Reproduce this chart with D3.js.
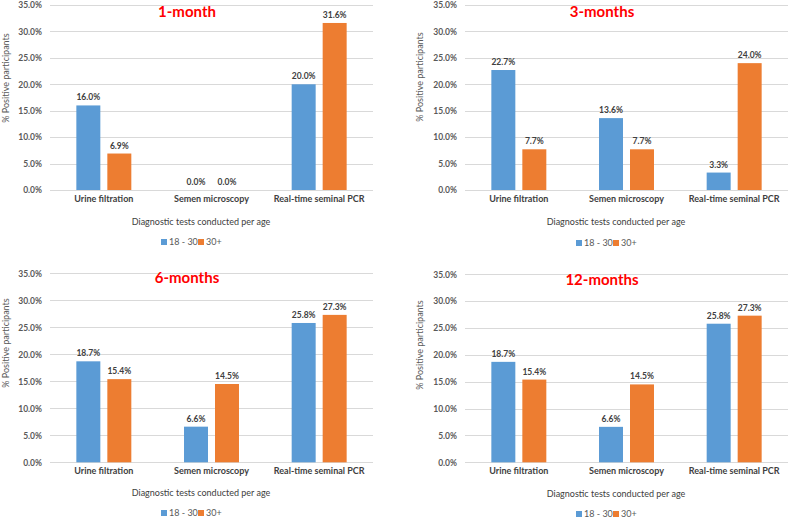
<!DOCTYPE html>
<html>
<head>
<meta charset="utf-8">
<script src="https://cdn.jsdelivr.net/npm/d3@7"></script>
<style>
  html, body { margin: 0; padding: 0; background: #fff; }
  svg { display: block; font-family: Lato, "Open Sans", sans-serif; }
</style>
</head>
<body>
<svg id="chart" width="790" height="519"></svg>
<script>
// ---- data ----
const categories = ["Urine filtration", "Semen microscopy", "Real-time seminal PCR"];
const seriesNames = ["18 - 30", "30+"];
const panelTitles = ["1-month", "3-months", "6-months", "12-months"];
const age18to30 = [
  [16.0, 0.0, 20.0],
  [22.7, 13.6, 3.3],
  [18.7, 6.6, 25.8],
  [18.7, 6.6, 25.8]
];
const age30plus = [
  [6.9, 0.0, 31.6],
  [7.7, 7.7, 24.0],
  [15.4, 14.5, 27.3],
  [15.4, 14.5, 27.3]
];
const yTicks = [0, 5, 10, 15, 20, 25, 30, 35];
const xAxisTitle = "Diagnostic tests conducted per age";
const yAxisTitle = "% Positive participants";

// ---- layout (positions only) ----
const layouts = [
  { left: 50,  right: 373, top: 5,   bottom: 190,   titleX: 187, titleY: 12,  catY: 202, xTitleX: 201, xTitleY: 222, legX: 190, legY: 242, yTitleX: 6,   yTitleY: 78 },
  { left: 465, right: 788, top: 5,   bottom: 190,   titleX: 602, titleY: 12,  catY: 202, xTitleX: 616, xTitleY: 222, legX: 605, legY: 243, yTitleX: 420, yTitleY: 77 },
  { left: 50,  right: 373, top: 273.3, bottom: 462.3, titleX: 187, titleY: 278, catY: 474, xTitleX: 201, xTitleY: 493, legX: 190, legY: 513, yTitleX: 6,   yTitleY: 343 },
  { left: 465, right: 788, top: 274.3, bottom: 462.3, titleX: 602, titleY: 280, catY: 474, xTitleX: 616, xTitleY: 494, legX: 605, legY: 514, yTitleX: 420, yTitleY: 345 }
];
const colors = ["#5B9BD5", "#ED7D31"];
const textColor = "#404040";
const tickColor = "#595959";

const svg = d3.select("#chart");

layouts.forEach((L, i) => {
  const g = svg.append("g");
  const y = d3.scaleLinear().domain([0, 35]).range([L.bottom, L.top]);
  const x0 = d3.scaleBand().domain(categories).range([L.left, L.right]).padding(0);
  const x1 = d3.scaleBand().domain(seriesNames).range([0, x0.bandwidth()])
    .paddingInner(0.226).paddingOuter(0.85);
  const color = d3.scaleOrdinal().domain(seriesNames).range(colors);

  // gridlines
  g.append("g").selectAll("line").data(yTicks).join("line")
    .attr("x1", L.left).attr("x2", L.right)
    .attr("y1", d => Math.round(y(d)) + 0.5).attr("y2", d => Math.round(y(d)) + 0.5)
    .attr("stroke", "#d9d9d9").attr("stroke-width", 1);

  // y axis labels via d3 axis
  const yAxis = d3.axisLeft(y).tickValues(yTicks).tickSize(0).tickPadding(0)
    .tickFormat(d => d.toFixed(1) + "%");
  const ya = g.append("g").attr("transform", `translate(${L.left - 8},0)`).call(yAxis);
  ya.select(".domain").remove();
  ya.selectAll("text").attr("font-family", "Lato, sans-serif").attr("font-size", 8.5)
    .attr("font-weight", "bold").attr("fill", tickColor);

  // bars
  const rows = categories.map((c, k) => ({ cat: c, vals: [age18to30[i][k], age30plus[i][k]] }));
  const groups = g.append("g").selectAll("g").data(rows).join("g")
    .attr("transform", d => `translate(${x0(d.cat)},0)`);
  groups.selectAll("rect").data(d => d.vals.map((v, s) => ({ s: seriesNames[s], v })))
    .join("rect")
    .attr("x", d => x1(d.s))
    .attr("width", x1.bandwidth())
    .attr("y", d => y(d.v))
    .attr("height", d => y(0) - y(d.v))
    .attr("fill", d => color(d.s));
  groups.selectAll("text").data(d => d.vals.map((v, s) => ({ s: seriesNames[s], v })))
    .join("text")
    .attr("x", d => x1(d.s) + x1.bandwidth() / 2)
    .attr("y", d => y(d.v) - 5)
    .attr("text-anchor", "middle")
    .attr("font-size", 8.5).attr("font-weight", "bold").attr("fill", textColor)
    .text(d => d.v.toFixed(1) + "%");

  // category labels via d3 axis
  const xAxis = d3.axisBottom(x0).tickSize(0).tickPadding(0);
  const xa = g.append("g").attr("transform", `translate(0,${L.catY - 6})`).call(xAxis);
  xa.select(".domain").remove();
  xa.selectAll("text").attr("font-family", "Lato, sans-serif").attr("font-size", 9)
    .attr("font-weight", "bold").attr("fill", textColor);

  // panel title
  g.append("text").attr("x", L.titleX).attr("y", L.titleY).attr("dy", "0.35em")
    .attr("text-anchor", "middle").attr("font-size", 15).attr("font-weight", "bold")
    .attr("fill", "#FF0000").text(panelTitles[i]);

  // x axis title
  g.append("text").attr("x", L.xTitleX).attr("y", L.xTitleY).attr("dy", "0.35em")
    .attr("text-anchor", "middle").attr("font-size", 9).attr("fill", textColor)
    .text(xAxisTitle);

  // y axis title
  g.append("text").attr("transform", `translate(${L.yTitleX},${L.yTitleY}) rotate(-90)`)
    .attr("dy", "0.35em").attr("text-anchor", "middle").attr("font-size", 9)
    .attr("fill", tickColor).text(yAxisTitle);

  // legend
  const lg = g.append("g").attr("transform", `translate(${L.legX - 29},${L.legY})`);
  const legendOffsets = [0, 37];
  seriesNames.forEach((name, s) => {
    lg.append("rect").attr("x", legendOffsets[s]).attr("y", -3).attr("width", 6).attr("height", 6)
      .attr("fill", colors[s]);
    lg.append("text").attr("x", legendOffsets[s] + 8).attr("y", 0).attr("dy", "0.35em")
      .attr("font-size", 9).attr("fill", tickColor).text(name);
  });
});
</script>
</body>
</html>
